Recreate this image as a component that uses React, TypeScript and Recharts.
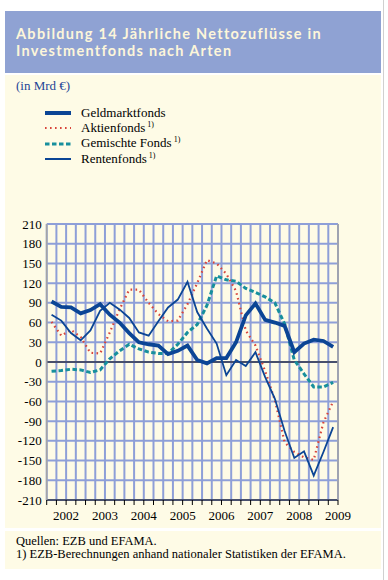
import { LineChart, Line, XAxis, YAxis, CartesianGrid, ReferenceLine } from 'recharts'

// Quartale 2002 Q1 bis 2009 Q2
const quarters = [
  '2002Q1', '2002Q2', '2002Q3', '2002Q4',
  '2003Q1', '2003Q2', '2003Q3', '2003Q4',
  '2004Q1', '2004Q2', '2004Q3', '2004Q4',
  '2005Q1', '2005Q2', '2005Q3', '2005Q4',
  '2006Q1', '2006Q2', '2006Q3', '2006Q4',
  '2007Q1', '2007Q2', '2007Q3', '2007Q4',
  '2008Q1', '2008Q2', '2008Q3', '2008Q4',
  '2009Q1', '2009Q2'
]
const years = ['2002', '2003', '2004', '2005', '2006', '2007', '2008', '2009']
const yTicks = [-210, -180, -150, -120, -90, -60, -30, 0, 30, 60, 90, 120, 150, 180, 210]

// Werte in Mrd €
const geldmarkt = [92, 84, 83, 74, 79, 88, 72, 60, 44, 30, 27, 25, 12, 17, 25, 3, -2, 6, 6, 30, 71, 89, 64, 60, 55, 15, 28, 34, 32, 23]
const aktien = [61, 40, 49, 38, 14, 13, 45, 80, 110, 110, 90, 73, 62, 63, 88, 120, 155, 150, 134, 108, 48, 25, -14, -58, -122, -137, -145, -149, -92, -60]
const gemischt = [-14, -13, -11, -12, -16, -12, 5, 17, 27, 20, 15, 13, 13, 27, 45, 57, 86, 131, 125, 123, 112, 106, 99, 90, 58, 3, -18, -38, -38, -31]
const renten = [72, 63, 44, 33, 48, 78, 90, 80, 67, 45, 40, 62, 83, 95, 122, 76, 51, 28, -20, 3, -6, 15, -23, -56, -105, -146, -136, -173, -137, -99]

const data = quarters.map((q, i) => ({
  q,
  x: i + 0.5,
  geldmarkt: geldmarkt[i],
  aktien: aktien[i],
  gemischt: gemischt[i],
  renten: renten[i]
}))

const xTicks = quarters.map((_, i) => i).concat([quarters.length])
const yearLabel = (v: number) => (v % 4 === 2 ? years[(v - 2) / 4] ?? '' : '')

const BLUE = '#0b4595'
const RED = '#d8443a'
const TEAL = '#178f9d'
const GRID = '#8e9fd8'
const CREAM = '#fefbe6'
const serif = '"Liberation Serif", "Times New Roman", serif'

const legendItems = [
  { label: 'Geldmarktfonds', color: BLUE, width: 4, dash: undefined, note: false },
  { label: 'Aktienfonds', color: RED, width: 2.2, dash: '1.6 3.4', note: true },
  { label: 'Gemischte Fonds', color: TEAL, width: 3, dash: '4.5 2.5', note: true },
  { label: 'Rentenfonds', color: BLUE, width: 2, dash: undefined, note: true }
]

export default function App() {
  const tickStyle = { fill: '#000', fontSize: 13, fontFamily: serif }

  return (
    <div style={{ position: 'absolute', left: 0, top: 0, width: 388, height: 580, background: '#fff', fontFamily: serif }}>
      {/* Titelleiste */}
      <div
        style={{
          position: 'absolute', left: 5, top: 11, width: 376, height: 62, background: '#8fa2d3',
          color: '#fdf6da', fontFamily: 'Lato, sans-serif', fontWeight: 700, fontSize: 14.5,
          letterSpacing: 1.3, lineHeight: '17px', boxSizing: 'border-box', padding: '14px 0 0 11px'
        }}
      >
        Abbildung 14 Jährliche Nettozuflüsse in
        <br />
        Investmentfonds nach Arten
      </div>

      {/* Diagrammfläche */}
      <div style={{ position: 'absolute', left: 5, top: 75, width: 376, height: 453, background: CREAM }} />
      <div style={{ position: 'absolute', left: 16, top: 78, fontSize: 13, color: '#1d4597' }}>(in Mrd €)</div>

      {legendItems.map((it, k) => (
        <div key={it.label} style={{ position: 'absolute', left: 45, top: 105 + k * 15.3, height: 16, display: 'flex', alignItems: 'center' }}>
          <svg width={26} height={16}>
            <line x1={0} x2={26} y1={8} y2={8} stroke={it.color} strokeWidth={it.width} strokeDasharray={it.dash} />
          </svg>
          <span style={{ marginLeft: 10, fontSize: 13, color: '#000' }}>
            {it.label}
            {it.note && <sup style={{ fontSize: 8, marginLeft: 2 }}>1)</sup>}
          </span>
        </div>
      ))}

      <div style={{ position: 'absolute', left: 5, top: 200 }}>
        <LineChart width={376} height={330} data={data} margin={{ top: 24, right: 0, bottom: 0, left: 0 }}>
          <CartesianGrid yAxisId="left" stroke={GRID} strokeWidth={2} />
          <XAxis
            dataKey="x"
            type="number"
            domain={[0, quarters.length]}
            ticks={xTicks}
            interval={0}
            tickFormatter={yearLabel}
            height={30}
            tickSize={5}
            tickMargin={6}
            tick={tickStyle}
            stroke="#000"
            axisLine={{ stroke: '#000', strokeWidth: 1 }}
            tickLine={{ stroke: '#000', strokeWidth: 1 }}
          />
          <YAxis
            yAxisId="left"
            orientation="left"
            domain={[-210, 210]}
            ticks={yTicks}
            interval={0}
            width={41.7}
            tickSize={0}
            tickMargin={5}
            tick={tickStyle}
            axisLine={{ stroke: '#a5a5a5', strokeWidth: 1.5 }}
          />
          <YAxis
            yAxisId="right"
            orientation="right"
            domain={[-210, 210]}
            ticks={yTicks}
            interval={0}
            width={43}
            tickSize={0}
            tickMargin={9}
            tick={tickStyle}
            axisLine={{ stroke: '#a5a5a5', strokeWidth: 1.5 }}
          />
          <ReferenceLine yAxisId="left" y={0} stroke="#000" strokeWidth={1.2} />
          <Line yAxisId="left" type="linear" dataKey="gemischt" stroke={TEAL} strokeWidth={3} strokeDasharray="4.5 2.5" dot={false} isAnimationActive={false} />
          <Line yAxisId="left" type="linear" dataKey="aktien" stroke={RED} strokeWidth={2.2} strokeDasharray="1.6 3.4" dot={false} isAnimationActive={false} />
          <Line yAxisId="left" type="linear" dataKey="renten" stroke={BLUE} strokeWidth={1.8} dot={false} isAnimationActive={false} />
          <Line yAxisId="left" type="linear" dataKey="geldmarkt" stroke={BLUE} strokeWidth={3.8} dot={false} isAnimationActive={false} />
        </LineChart>
      </div>

      {/* Quellenangabe */}
      <div style={{ position: 'absolute', left: 5, top: 531, width: 376, height: 38, background: CREAM, boxSizing: 'border-box', padding: '4px 0 0 11px', fontSize: 12.5, lineHeight: '13px', color: '#000' }}>
        Quellen: EZB und EFAMA.
        <br />
        1) EZB-Berechnungen anhand nationaler Statistiken der EFAMA.
      </div>
      <div style={{ position: 'absolute', left: 383, top: 0, width: 1, height: 580, background: '#d0d0d0' }} />
    </div>
  )
}
